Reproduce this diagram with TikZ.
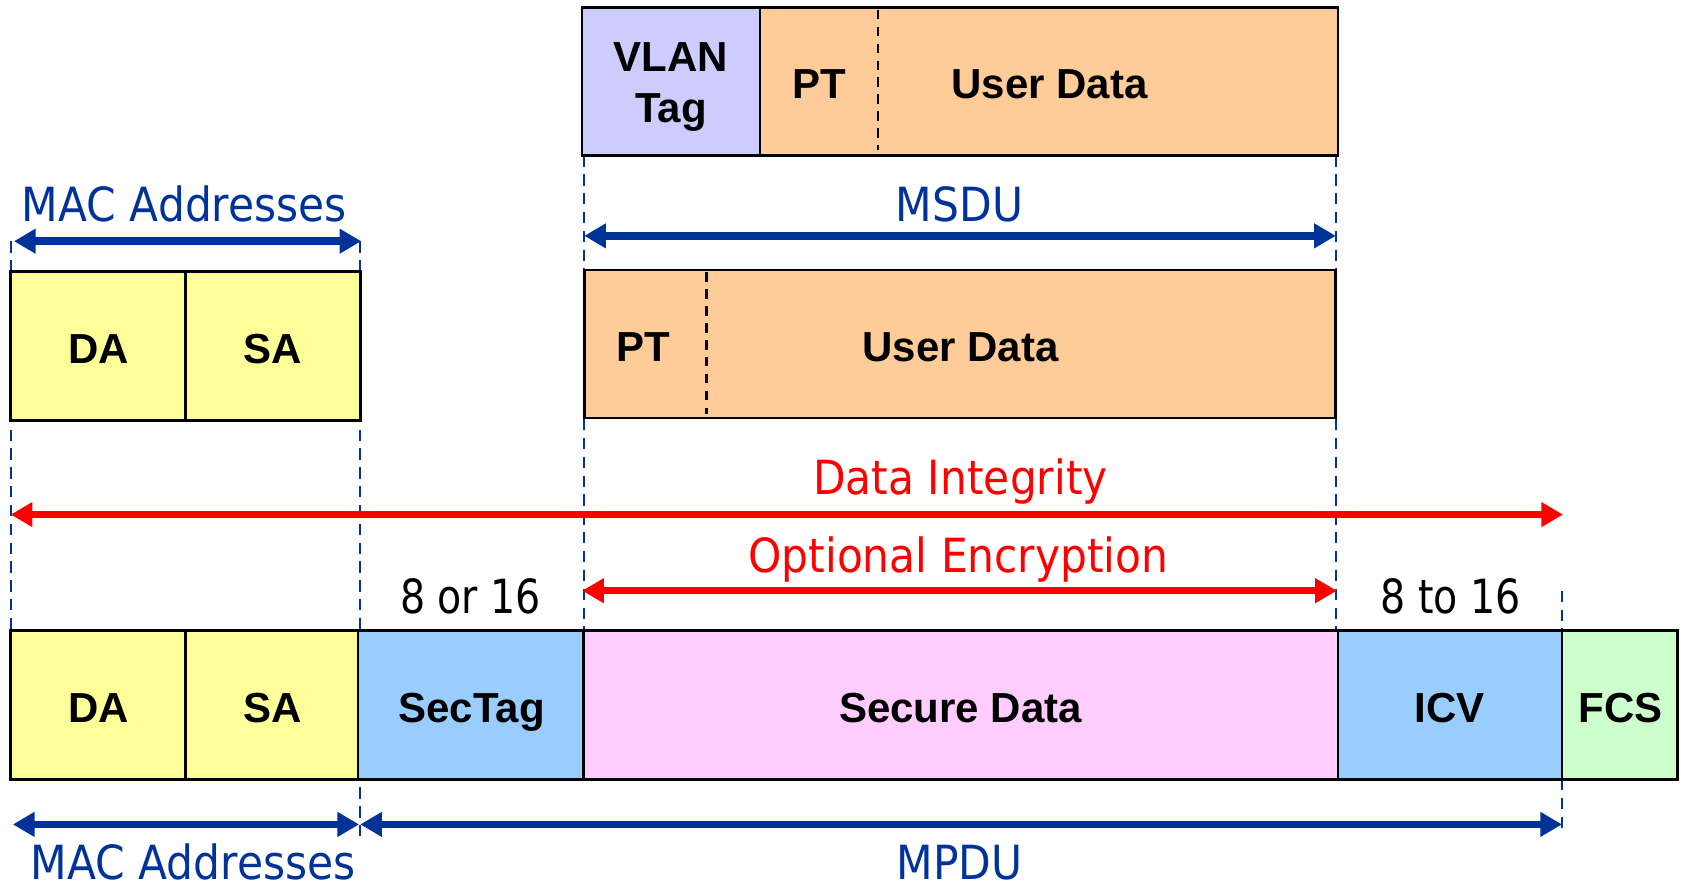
\documentclass[tikz,border=0pt]{standalone}
\usepackage{fontspec}
\usetikzlibrary{arrows.meta,fit}
\newfontfamily\labfont{Liberation Sans}
\newfontfamily\dimfont[FakeStretch=0.90]{DejaVu Sans}
\newfontfamily\sizefont[FakeStretch=0.84]{DejaVu Sans}
\definecolor{macyellow}{HTML}{FFFF99}
\definecolor{vlanblue}{HTML}{CCCCFF}
\definecolor{userpeach}{HTML}{FFCC99}
\definecolor{secblue}{HTML}{99CCFF}
\definecolor{securepink}{HTML}{FFCCFF}
\definecolor{fcsgreen}{HTML}{CCFFCC}
\definecolor{dimblue}{HTML}{003399}
\definecolor{dimred}{HTML}{FF0000}
\tikzset{
  cell/.style={draw=black, line width=1.4pt, inner sep=0pt},
  celltext/.style={anchor=base, inner sep=0pt, align=center,
    font=\labfont\bfseries\fontsize{22.3pt}{27.2pt}\selectfont},
  divider/.style={draw=black, line width=1.1pt, dash pattern=on 5pt off 4pt},
  guide/.style={draw=dimblue, line width=0.9pt, dash pattern=on 6pt off 4pt},
  bluedim/.style={draw=dimblue, line width=4pt, {Triangle[length=11.5pt,width=12.5pt]}-{Triangle[length=11.5pt,width=12.5pt]}},
  reddim/.style={draw=dimred, line width=4pt, {Triangle[length=11.5pt,width=12.5pt]}-{Triangle[length=11.5pt,width=12.5pt]}},
  bluetext/.style={anchor=base, text=dimblue, font=\dimfont\fontsize{25pt}{28pt}\selectfont, inner sep=0pt},
  redtext/.style={anchor=base, text=dimred, font=\dimfont\fontsize{25pt}{28pt}\selectfont, inner sep=0pt},
  sizetext/.style={anchor=base, text=black, font=\sizefont\fontsize{25pt}{28pt}\selectfont, inner sep=0pt},
}
\begin{document}
\begin{tikzpicture}[x=0.02cm, y=-0.02cm]
\useasboundingbox (0,0) rectangle (1568,827);

% guide coordinates
\coordinate (gA1) at (10,225);   \coordinate (gA2) at (10,588);
\coordinate (gB1) at (336,225);  \coordinate (gB2) at (336,782);
\coordinate (gC1) at (545,145);  \coordinate (gC2) at (545,588);
\coordinate (gD1) at (1246,145); \coordinate (gD2) at (1246,588);
\coordinate (gE1) at (1457,551); \coordinate (gE2) at (1457,772);

% dashed guide lines (drawn behind the boxes)
\draw[guide] (gA1) -- (gA2);
\draw[guide] (gB1) -- (gB2);
\draw[guide] (gC1) -- (gC2);
\draw[guide] (gD1) -- (gD2);
\draw[guide] (gE1) -- (gE2);

% top frame: VLAN tag + user data
\node[cell, fill=vlanblue, fit={(543,7)(709,145)}] (vlan) {};
\node[cell, fill=userpeach, fit={(709,7)(1248,145)}] (topdata) {};
\draw[divider] (819,9) -- (819,140);
\node[celltext, anchor=north] (vlantxt) at (626,39) {VLAN\\Tag};
\node[celltext] (toppt) at (764,92) {PT};
\node[celltext] (topud) at (979,92) {User Data};

% MSDU
\node[bluetext] (msdu) at (895,207) {MSDU};
\coordinate (msduL) at (545,220); \coordinate (msduR) at (1246,220);
\draw[bluedim] (msduL) -- (msduR);

% middle frame: user data
\node[cell, fill=userpeach, fit={(545,252)(1246,390)}] (middata) {};
\draw[divider] (659,254) -- (659,386);
\node[celltext] (midpt) at (600,337) {PT};
\node[celltext] (midud) at (896,337) {User Data};

% top MAC addresses
\node[bluetext] (mactop) at (172,207) {MAC Addresses};
\coordinate (macL) at (13,225); \coordinate (macR) at (337,225);
\draw[bluedim] (macL) -- (macR);
\node[cell, fill=macyellow, fit={(10,253)(173,392)}] (da1) {};
\node[cell, fill=macyellow, fit={(173,253)(336,392)}] (sa1) {};
\node[celltext] (da1t) at (92,339) {DA};
\node[celltext] (sa1t) at (254,339) {SA};

% integrity and encryption
\node[redtext] (integ) at (896,461) {Data Integrity};
\coordinate (intL) at (10,480); \coordinate (intR) at (1458,480);
\draw[reddim] (intL) -- (intR);
\node[redtext] (encr) at (894,534) {Optional Encryption};
\coordinate (encL) at (543,551); \coordinate (encR) at (1247,551);
\draw[reddim] (encL) -- (encR);

\node[sizetext] (sz1) at (439,572) {8 or 16};
\node[sizetext] (sz2) at (1353,572) {8 to 16};

% secured frame
\node[cell, fill=macyellow, fit={(10,588)(173,727)}] (da2) {};
\node[cell, fill=macyellow, fit={(173,588)(334,727)}] (sa2) {};
\node[cell, fill=secblue, fit={(334,588)(544,727)}] (sectag) {};
\node[cell, fill=securepink, fit={(544,588)(1248,727)}] (secdata) {};
\node[cell, fill=secblue, fit={(1248,588)(1457,727)}] (icv) {};
\node[cell, fill=fcsgreen, fit={(1457,588)(1565,727)}] (fcs) {};
\node[celltext] (da2t) at (92,674) {DA};
\node[celltext] (sa2t) at (254,674) {SA};
\node[celltext] (sectagt) at (440,674) {SecTag};
\node[celltext] (secdatat) at (896,674) {Secure Data};
\node[celltext] (icvt) at (1352,674) {ICV};
\node[celltext] (fcst) at (1512,674) {FCS};

% bottom dimensions
\coordinate (bmL) at (12,769); \coordinate (bmR) at (335,769);
\draw[bluedim] (bmL) -- (bmR);
\coordinate (mpL) at (336,769); \coordinate (mpR) at (1457,769);
\draw[bluedim] (mpL) -- (mpR);
\node[bluetext] (macbot) at (180,820) {MAC Addresses};
\node[bluetext] (mpdu) at (895,820) {MPDU};
\end{tikzpicture}
\end{document}
